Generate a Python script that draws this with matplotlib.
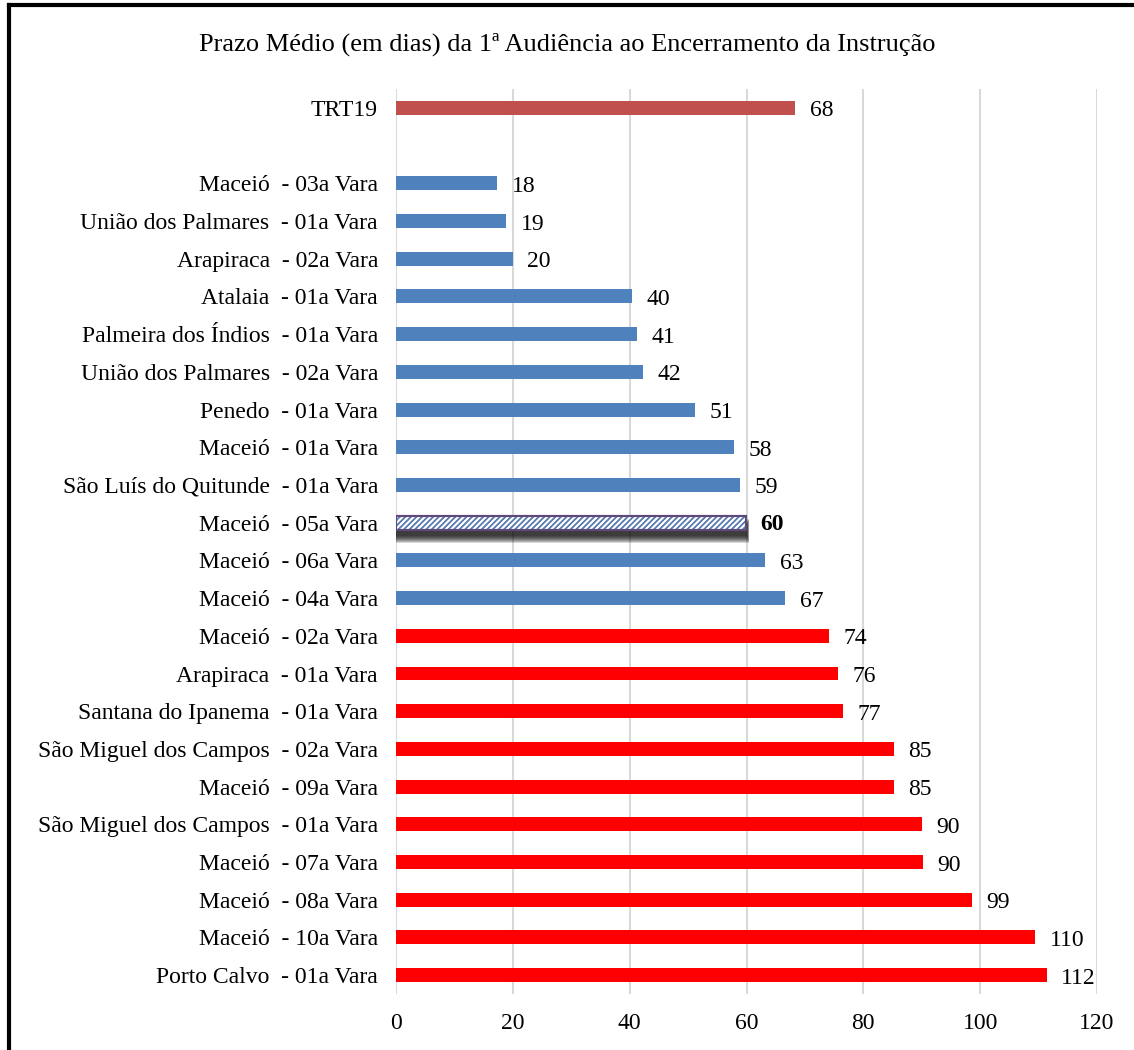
import numpy as np
import matplotlib.pyplot as plt
from matplotlib.lines import Line2D

plt.rcParams['font.family'] = ['Liberation Serif', 'DejaVu Serif']

title = 'Prazo Médio (em dias) da 1ª Audiência ao Encerramento da Instrução'

# top to bottom; None marks the empty slot under TRT19
categories = [
    'TRT19', None,
    'Maceió  - 03a Vara', 'União dos Palmares  - 01a Vara', 'Arapiraca  - 02a Vara',
    'Atalaia  - 01a Vara', 'Palmeira dos Índios  - 01a Vara', 'União dos Palmares  - 02a Vara',
    'Penedo  - 01a Vara', 'Maceió  - 01a Vara', 'São Luís do Quitunde  - 01a Vara',
    'Maceió  - 05a Vara', 'Maceió  - 06a Vara', 'Maceió  - 04a Vara',
    'Maceió  - 02a Vara', 'Arapiraca  - 01a Vara', 'Santana do Ipanema  - 01a Vara',
    'São Miguel dos Campos  - 02a Vara', 'Maceió  - 09a Vara', 'São Miguel dos Campos  - 01a Vara',
    'Maceió  - 07a Vara', 'Maceió  - 08a Vara', 'Maceió  - 10a Vara', 'Porto Calvo  - 01a Vara',
]
values = [68.3, None, 17.3, 18.8, 20.0, 40.4, 41.3, 42.3, 51.2, 57.9, 58.9, 59.9, 63.2, 66.6,
          74.1, 75.7, 76.5, 85.2, 85.2, 90.0, 90.2, 98.6, 109.4, 111.4]
labels = ['68', '', '18', '19', '20', '40', '41', '42', '51', '58', '59', '60', '63', '67',
          '74', '76', '77', '85', '85', '90', '90', '99', '110', '112']
groups = ['trt', None] + ['blue'] * 12 + ['red'] * 10
highlight = 'Maceió  - 05a Vara'

colors = {'trt': '#c0504d', 'blue': '#4f81bd', 'red': '#ff0000'}

fig = plt.figure(figsize=(11.34, 10.5), dpi=100)
ax = fig.add_axes([0.3492, 0.0533, 0.6182, 0.8619])

n = len(categories)
ypos = np.arange(n)
bh = 0.37
for y, cat, v, lab, g in zip(ypos, categories, values, labels, groups):
    if cat is None:
        continue
    if cat == highlight:
        # blurred dark shadow below the bar
        for k in range(8):
            grow = 0.05 * (7 - k)
            ax.barh(y + 0.22, v + 0.4 + 2 * grow, height=0.28 + grow, left=-0.2 - grow,
                    color='black', alpha=0.16, linewidth=0, zorder=2)
        ax.barh(y, v, height=bh, color='white', edgecolor='#5f497a', linewidth=1.5,
                hatch='//////', zorder=3)
        ax.barh(y, v, height=bh, color='none', edgecolor='#4f81bd', linewidth=0,
                hatch='//////', zorder=3)
        ax.barh(y, v, height=bh, color='none', edgecolor='#5f497a', linewidth=1.5, zorder=4)
        ax.text(v + 2.5, y + 0.05, lab, va='center', ha='left', fontsize=17, fontweight='bold')
    else:
        ax.barh(y, v, height=bh, color=colors[g], linewidth=0, zorder=3)
        ax.text(v + 2.5, y + 0.08, lab, va='center', ha='left', fontsize=17)

ax.set_yticks([y for y, c in zip(ypos, categories) if c is not None])
ax.set_yticklabels([c for c in categories if c is not None], fontsize=17)
ax.set_ylim(n - 0.5, -0.5)
ax.set_xlim(0, 120)
ax.set_xticks(np.arange(0, 121, 20))
ax.tick_params(axis='x', labelsize=17, length=0, pad=14)
ax.tick_params(axis='y', length=0, pad=13)
ax.grid(axis='x', color='#d9d9d9', linewidth=1.5, zorder=0)
ax.set_axisbelow(True)
for s in ax.spines.values():
    s.set_visible(False)

fig.text(0.5, 0.958, title, ha='center', va='center', fontsize=19)

# outer frame (only top and left are visible)
fig.add_artist(Line2D([0.008, 1.0], [0.995, 0.995], color='black', linewidth=3,
                      transform=fig.transFigure))
fig.add_artist(Line2D([0.008, 0.008], [0.0, 0.995], color='black', linewidth=3,
                      transform=fig.transFigure))

fig.savefig('out.png', dpi=100)
